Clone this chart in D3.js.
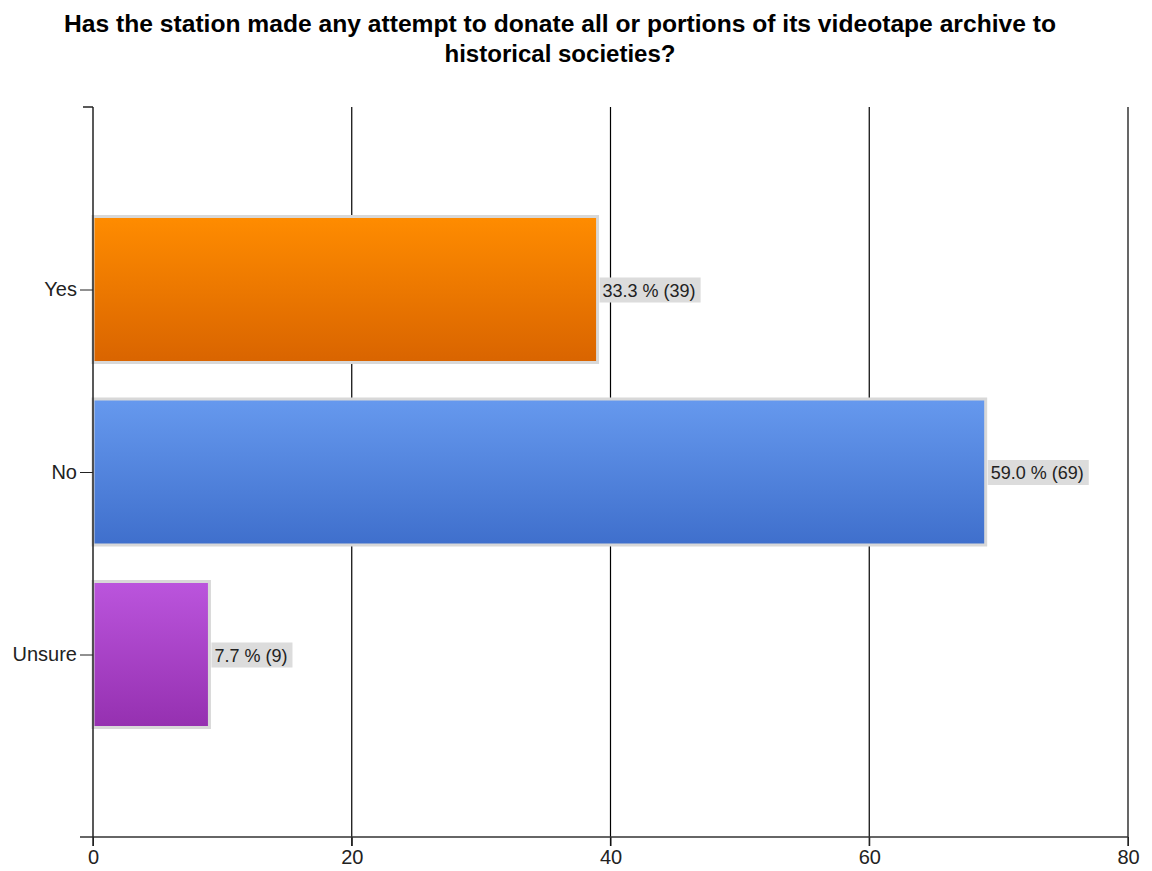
<!DOCTYPE html>
<html><head><meta charset="utf-8">
<script src="https://cdn.jsdelivr.net/npm/d3@7"></script>
<style>body{margin:0;background:#fff}svg{display:block}text{font-family:"Liberation Sans",Arial,sans-serif}</style>
</head><body>
<script>
const categories = ["Yes", "No", "Unsure"];
const counts = [39, 69, 9];
const percents = ["33.3", "59.0", "7.7"];
const xTicks = [0, 20, 40, 60, 80];
const titleLines = ["Has the station made any attempt to donate all or portions of its videotape archive to", "historical societies?"];
const gradients = [["#ff8c00", "#d96400"], ["#6699ee", "#3f6fcc"], ["#bb55dd", "#9530b0"]];

(function(){
const W = 1152, H = 871;
const svg = d3.select("body").append("svg").attr("width", W).attr("height", H);
const pL = 93, pR = 1128, pT = 107, pB = 837;
const x = d3.scaleLinear().domain([0, 80]).range([pL, pR]);
const y = d3.scalePoint().domain(categories).range([pT, pB]).padding(1);
const bh = y.step() * 0.8;

const defs = svg.append("defs");
gradients.forEach((g, i) => {
  const lg = defs.append("linearGradient").attr("id", "g" + i).attr("x1", 0).attr("y1", 0).attr("x2", 0).attr("y2", 1);
  lg.append("stop").attr("offset", "0%").attr("stop-color", g[0]);
  lg.append("stop").attr("offset", "100%").attr("stop-color", g[1]);
});

const tw = [992, 231];
titleLines.forEach((t, i) => {
  svg.append("text").attr("x", 560).attr("y", 32 + i * 30).attr("text-anchor", "middle")
    .attr("font-size", 23).attr("font-weight", "bold").attr("fill", "#000")
    .attr("textLength", tw[i]).attr("lengthAdjust", "spacingAndGlyphs").text(t);
});

svg.append("g").selectAll("line").data(xTicks.slice(1)).join("line")
  .attr("x1", d => x(d)).attr("x2", d => x(d)).attr("y1", pT).attr("y2", pB + 9)
  .attr("stroke", "#000").attr("stroke-width", 1.2);

svg.append("g").selectAll("rect").data(categories).join("rect")
  .attr("x", x(0)).attr("y", d => y(d) - bh / 2)
  .attr("width", (d, i) => x(counts[i]) - x(0)).attr("height", bh)
  .attr("fill", (d, i) => `url(#g${i})`).attr("stroke", "#d8d8d8").attr("stroke-width", 3);

const lg = svg.append("g");
categories.forEach((c, i) => {
  const lx = x(counts[i]) + 2, ly = y(c);
  const t = lg.append("text").attr("x", lx + 3).attr("y", ly + 7).attr("font-size", 18).attr("fill", "#222")
    .text(`${percents[i]} % (${counts[i]})`);
  const bb = t.node().getBBox();
  lg.insert("rect", "text").attr("x", lx).attr("y", ly - 12).attr("width", bb.width + 8).attr("height", 25).attr("fill", "#dcdcdc");
});

const xa = svg.append("g").attr("transform", `translate(0,${pB})`)
  .call(d3.axisBottom(x).tickValues(xTicks).tickSize(9).tickPadding(4));
xa.select(".domain").remove();
xa.selectAll("text").attr("font-size", 20).attr("fill", "#222").attr("font-family", "Liberation Sans, Arial, sans-serif");
xa.selectAll("line").attr("stroke", "#222");
svg.append("line").attr("x1", 80).attr("x2", pR).attr("y1", pB).attr("y2", pB).attr("stroke", "#333").attr("stroke-width", 1.5);

const ya = svg.append("g").attr("transform", `translate(${pL},0)`)
  .call(d3.axisLeft(y).tickSize(13).tickPadding(3));
ya.select(".domain").remove();
ya.selectAll("text").attr("font-size", 20).attr("fill", "#222").attr("font-family", "Liberation Sans, Arial, sans-serif");
ya.selectAll("line").attr("stroke", "#222");
svg.append("line").attr("x1", pL).attr("x2", pL).attr("y1", pT).attr("y2", pB + 9).attr("stroke", "#222").attr("stroke-width", 1.5);
svg.append("line").attr("x1", 83).attr("x2", pL).attr("y1", pT).attr("y2", pT).attr("stroke", "#222").attr("stroke-width", 1.5);
})();
</script>
</body></html>
